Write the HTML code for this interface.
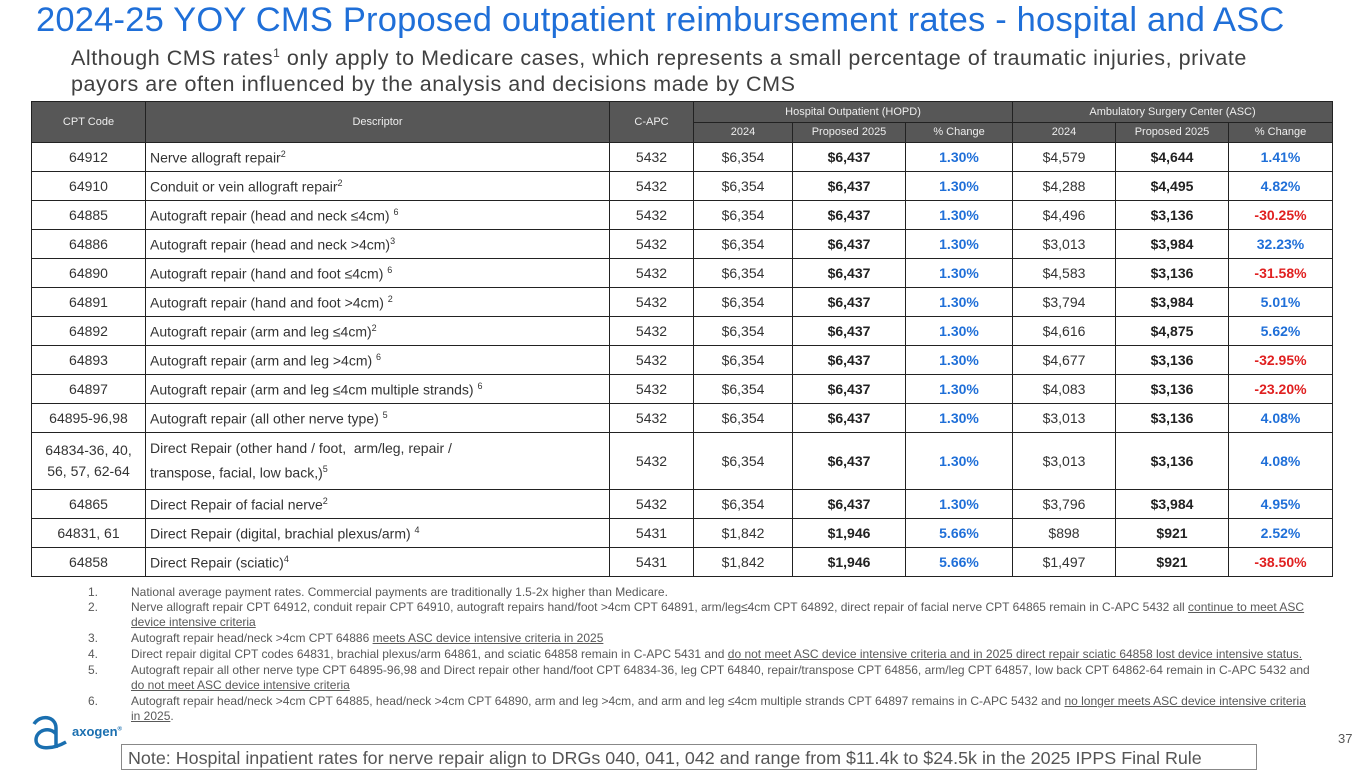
<!DOCTYPE html>
<html><head><meta charset="utf-8"><style>
body{margin:0;width:1365px;height:768px;background:#fff;position:relative;overflow:hidden;font-family:"Liberation Sans",sans-serif}
.t{position:absolute;left:36px;top:1px;font-size:34.5px;color:#1f6fd8;white-space:nowrap;letter-spacing:0.2px}
.s{position:absolute;left:71px;top:40px;font-size:21.5px;letter-spacing:0.54px;color:#404040;line-height:26px;width:1200px;white-space:nowrap}
table{position:absolute;left:31px;top:101px;border-collapse:collapse;font-size:14px;color:#333}
td{border:1.5px solid #222;padding:0;text-align:center;height:28px}
th{background:#575757;color:#eee;font-weight:normal;font-size:11px;border:1.5px solid #222;height:19.5px;padding:0}
td.d{text-align:left;padding-left:4px}
td b{color:#222}
.p{color:#1f6fd8;font-weight:bold}
.n{color:#e02020;font-weight:bold}
sup{font-size:9px}
.f{position:absolute;font-size:12px;color:#595959;line-height:15px}
.f span{position:absolute;left:0}
u{text-decoration:underline}
.note{position:absolute;left:121px;top:744px;width:1136px;height:26px;border:1px solid #888;box-sizing:border-box;font-size:17.9px;color:#555;padding-left:6px;line-height:26px;white-space:nowrap}
</style></head><body>
<div class="t">2024-25 YOY CMS Proposed outpatient reimbursement rates - hospital and ASC</div>
<div class="s">Although CMS rates<sup style="font-size:12px">1</sup> only apply to Medicare cases, which represents a small percentage of traumatic injuries, private<br>payors are often influenced by the analysis and decisions made by CMS</div>
<table>
<colgroup><col style="width:114px"><col style="width:464px"><col style="width:84px"><col style="width:99px"><col style="width:113px"><col style="width:107px"><col style="width:103px"><col style="width:113px"><col style="width:104px"></colgroup>
<tr><th rowspan="2">CPT Code</th><th rowspan="2">Descriptor</th><th rowspan="2">C-APC</th><th colspan="3">Hospital Outpatient (HOPD)</th><th colspan="3">Ambulatory Surgery Center (ASC)</th></tr>
<tr><th>2024</th><th>Proposed 2025</th><th>% Change</th><th>2024</th><th>Proposed 2025</th><th>% Change</th></tr>
<tr><td>64912</td><td class="d">Nerve allograft repair<sup>2</sup></td><td>5432</td><td>$6,354</td><td><b>$6,437</b></td><td class="p">1.30%</td><td>$4,579</td><td><b>$4,644</b></td><td class="p">1.41%</td></tr>
<tr><td>64910</td><td class="d">Conduit or vein allograft repair<sup>2</sup></td><td>5432</td><td>$6,354</td><td><b>$6,437</b></td><td class="p">1.30%</td><td>$4,288</td><td><b>$4,495</b></td><td class="p">4.82%</td></tr>
<tr><td>64885</td><td class="d">Autograft repair (head and neck ≤4cm) <sup>6</sup></td><td>5432</td><td>$6,354</td><td><b>$6,437</b></td><td class="p">1.30%</td><td>$4,496</td><td><b>$3,136</b></td><td class="n">-30.25%</td></tr>
<tr><td>64886</td><td class="d">Autograft repair (head and neck &gt;4cm)<sup>3</sup></td><td>5432</td><td>$6,354</td><td><b>$6,437</b></td><td class="p">1.30%</td><td>$3,013</td><td><b>$3,984</b></td><td class="p">32.23%</td></tr>
<tr><td>64890</td><td class="d">Autograft repair (hand and foot ≤4cm) <sup>6</sup></td><td>5432</td><td>$6,354</td><td><b>$6,437</b></td><td class="p">1.30%</td><td>$4,583</td><td><b>$3,136</b></td><td class="n">-31.58%</td></tr>
<tr><td>64891</td><td class="d">Autograft repair (hand and foot &gt;4cm) <sup>2</sup></td><td>5432</td><td>$6,354</td><td><b>$6,437</b></td><td class="p">1.30%</td><td>$3,794</td><td><b>$3,984</b></td><td class="p">5.01%</td></tr>
<tr><td>64892</td><td class="d">Autograft repair (arm and leg ≤4cm)<sup>2</sup></td><td>5432</td><td>$6,354</td><td><b>$6,437</b></td><td class="p">1.30%</td><td>$4,616</td><td><b>$4,875</b></td><td class="p">5.62%</td></tr>
<tr><td>64893</td><td class="d">Autograft repair (arm and leg &gt;4cm) <sup>6</sup></td><td>5432</td><td>$6,354</td><td><b>$6,437</b></td><td class="p">1.30%</td><td>$4,677</td><td><b>$3,136</b></td><td class="n">-32.95%</td></tr>
<tr><td>64897</td><td class="d">Autograft repair (arm and leg ≤4cm multiple strands) <sup>6</sup></td><td>5432</td><td>$6,354</td><td><b>$6,437</b></td><td class="p">1.30%</td><td>$4,083</td><td><b>$3,136</b></td><td class="n">-23.20%</td></tr>
<tr><td>64895-96,98</td><td class="d">Autograft repair (all other nerve type) <sup>5</sup></td><td>5432</td><td>$6,354</td><td><b>$6,437</b></td><td class="p">1.30%</td><td>$3,013</td><td><b>$3,136</b></td><td class="p">4.08%</td></tr>
<tr><td style="height:56px;line-height:21px">64834-36, 40,<br>56, 57, 62-64</td><td class="d" style="line-height:21px">Direct Repair (other hand / foot,&nbsp; arm/leg, repair /<br>transpose, facial, low back,)<sup>5</sup></td><td>5432</td><td>$6,354</td><td><b>$6,437</b></td><td class="p">1.30%</td><td>$3,013</td><td><b>$3,136</b></td><td class="p">4.08%</td></tr>
<tr><td>64865</td><td class="d">Direct Repair of facial nerve<sup>2</sup></td><td>5432</td><td>$6,354</td><td><b>$6,437</b></td><td class="p">1.30%</td><td>$3,796</td><td><b>$3,984</b></td><td class="p">4.95%</td></tr>
<tr><td>64831, 61</td><td class="d">Direct Repair (digital, brachial plexus/arm) <sup>4</sup></td><td>5431</td><td>$1,842</td><td><b>$1,946</b></td><td class="p">5.66%</td><td>$898</td><td><b>$921</b></td><td class="p">2.52%</td></tr>
<tr><td>64858</td><td class="d">Direct Repair (sciatic)<sup>4</sup></td><td>5431</td><td>$1,842</td><td><b>$1,946</b></td><td class="p">5.66%</td><td>$1,497</td><td><b>$921</b></td><td class="n">-38.50%</td></tr>
</table>
<div class="f" style="left:131px;top:585px;width:1185px">
<div style="position:relative"><span style="left:-43px">1.</span>National average payment rates. Commercial payments are traditionally 1.5-2x higher than Medicare.</div>
<div style="position:relative"><span style="left:-43px">2.</span>Nerve allograft repair CPT 64912, conduit repair CPT 64910, autograft repairs hand/foot &gt;4cm CPT 64891, arm/leg≤4cm CPT 64892, direct repair of facial nerve CPT 64865 remain in C-APC 5432 all <u>continue to meet ASC device intensive criteria</u></div>
<div style="position:relative;margin-top:1px"><span style="left:-43px">3.</span>Autograft repair head/neck &gt;4cm CPT 64886 <u>meets ASC device intensive criteria in 2025</u></div>
<div style="position:relative;margin-top:1px"><span style="left:-43px">4.</span>Direct repair digital CPT codes 64831, brachial plexus/arm 64861, and sciatic 64858 remain in C-APC 5431 and <u>do not meet ASC device intensive criteria and in 2025 direct repair sciatic 64858 lost device intensive status.</u></div>
<div style="position:relative;margin-top:1px"><span style="left:-43px">5.</span>Autograft repair all other nerve type CPT 64895-96,98 and Direct repair other hand/foot CPT 64834-36, leg CPT 64840, repair/transpose CPT 64856, arm/leg CPT 64857, low back CPT 64862-64 remain in C-APC 5432 and <u>do not meet ASC device intensive criteria</u></div>
<div style="position:relative;margin-top:1px"><span style="left:-43px">6.</span>Autograft repair head/neck &gt;4cm CPT 64885, head/neck &gt;4cm CPT 64890, arm and leg &gt;4cm, and arm and leg ≤4cm multiple strands CPT 64897 remains in C-APC 5432 and <u>no longer meets ASC device intensive criteria in 2025</u>.</div>
</div>
<svg style="position:absolute;left:30px;top:712px" width="40" height="40" viewBox="0 0 40 40"><path d="M4 12 C10 2,26 4,26 16 L26 36 M26 22 C20 14,6 18,6 28 C6 38,22 38,36 30" fill="none" stroke="#1a6fb0" stroke-width="3.5"/></svg>
<div style="position:absolute;left:72px;top:724px;font-size:13px;font-weight:bold;color:#1a6fb0">axogen<sup style="font-size:6px">®</sup></div>
<div style="position:absolute;left:1338px;top:731px;font-size:13px;color:#555">37</div>
<div class="note">Note: Hospital inpatient rates for nerve repair align to DRGs 040, 041, 042 and range from $11.4k to $24.5k in the 2025 IPPS Final Rule</div>
</body></html>
